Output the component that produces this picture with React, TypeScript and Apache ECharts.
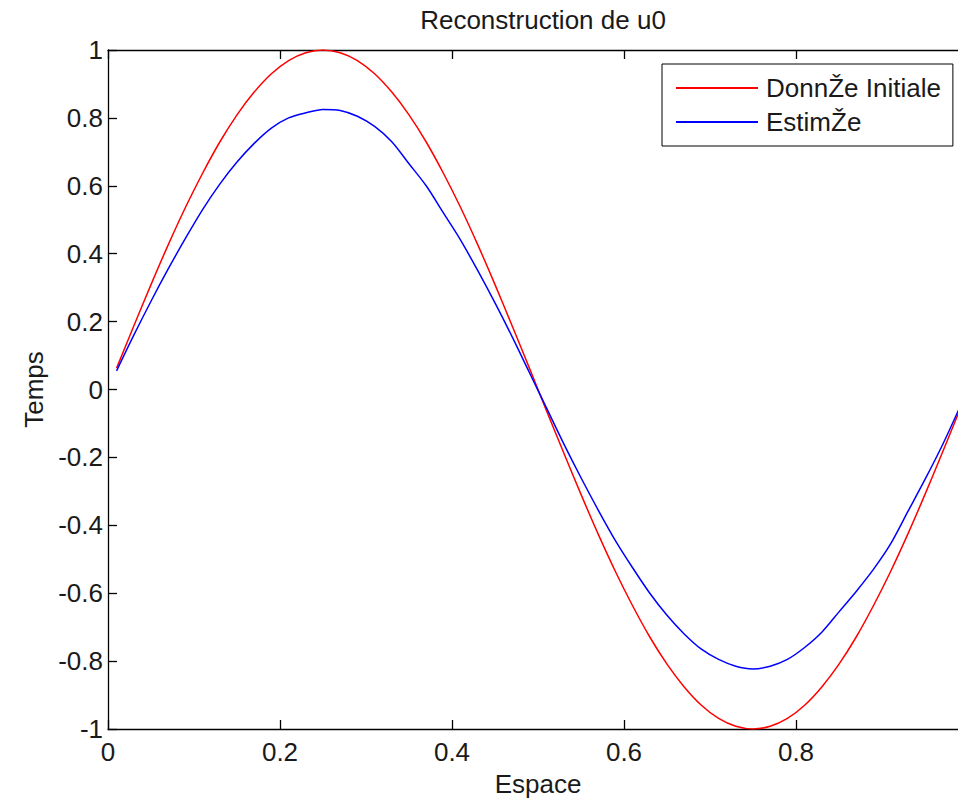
import React, { useEffect, useRef } from "react";
import * as echarts from "echarts";

const xs = [
  0.01, 0.03, 0.05, 0.07, 0.09, 0.11, 0.13, 0.15, 0.17, 0.19,
  0.21, 0.23, 0.25, 0.27, 0.29, 0.31, 0.33, 0.35, 0.37, 0.39,
  0.41, 0.43, 0.45, 0.47, 0.49, 0.51, 0.53, 0.55, 0.57, 0.59,
  0.61, 0.63, 0.65, 0.67, 0.69, 0.71, 0.73, 0.75, 0.77, 0.79,
  0.81, 0.83, 0.85, 0.87, 0.89, 0.91, 0.93, 0.95, 0.97, 0.99,
];

const initiale = [
  0.063, 0.187, 0.309, 0.426, 0.536, 0.637, 0.729, 0.809, 0.876, 0.93,
  0.969, 0.992, 1.0, 0.992, 0.969, 0.93, 0.876, 0.809, 0.729, 0.637,
  0.536, 0.426, 0.309, 0.187, 0.063, -0.063, -0.187, -0.309, -0.426, -0.536,
  -0.637, -0.729, -0.809, -0.876, -0.93, -0.969, -0.992, -1.0, -0.992, -0.969,
  -0.93, -0.876, -0.809, -0.729, -0.637, -0.536, -0.426, -0.309, -0.187, -0.063,
];

const estimee = [
  0.055, 0.16, 0.26, 0.355, 0.445, 0.53, 0.605, 0.67, 0.725, 0.77,
  0.8, 0.815, 0.825, 0.822, 0.805, 0.775, 0.73, 0.665, 0.6, 0.52,
  0.44, 0.35, 0.255, 0.155, 0.05, -0.055, -0.16, -0.26, -0.355, -0.445,
  -0.525, -0.6, -0.665, -0.72, -0.765, -0.795, -0.815, -0.823, -0.815, -0.795,
  -0.76, -0.715, -0.655, -0.595, -0.53, -0.455, -0.36, -0.265, -0.165, -0.055,
];

const seriesNames = ["DonnŽe Initiale", "EstimŽe"];
const FONT = "'Liberation Sans', Arial, Helvetica, sans-serif";
const TEXT = "#1a1a1a";

export default function App() {
  const ref = useRef<HTMLDivElement>(null);
  useEffect(() => {
    if (!ref.current) return;
    const chart = echarts.init(ref.current, null, { renderer: "svg" });
    const axisLine = { show: true, onZero: false, lineStyle: { color: "#000", width: 1.3 } };
    const tick = { show: true, inside: true, length: 9, lineStyle: { color: "#000", width: 1.3 } };
    chart.setOption({
      animation: false,
      backgroundColor: "#fff",
      textStyle: { fontFamily: FONT },
      title: {
        text: "Reconstruction de u0",
        left: 538,
        textAlign: "center",
        top: 2,
        textStyle: { fontSize: 26, fontWeight: "normal", color: TEXT, fontFamily: FONT },
      },
      legend: {
        left: 662,
        top: 64,
        orient: "vertical",
        icon: "rect",
        itemWidth: 82,
        itemHeight: 2,
        itemGap: 6,
        padding: [10, 12, 10, 14],
        borderColor: "#000",
        borderWidth: 1,
        backgroundColor: "#fff",
        textStyle: { fontSize: 26, color: TEXT, lineHeight: 28, fontFamily: FONT, padding: [0, 0, 0, 3] },
        data: seriesNames,
      },
      grid: {
        left: 108,
        top: 50,
        width: 860,
        height: 679,
        containLabel: false,
        outerBoundsMode: "none",
      },
      xAxis: [
        {
          type: "value",
          min: 0,
          max: 1,
          interval: 0.2,
          name: "Espace",
          nameLocation: "middle",
          nameGap: 42,
          nameTextStyle: { fontSize: 26, color: TEXT, fontFamily: FONT },
          axisLine,
          axisTick: tick,
          splitLine: { show: false },
          axisLabel: { fontSize: 26, color: TEXT, margin: 10, fontFamily: FONT, showMaxLabel: false },
        },
        {
          type: "value",
          position: "top",
          min: 0,
          max: 1,
          interval: 0.2,
          axisLine,
          axisTick: tick,
          splitLine: { show: false },
          axisLabel: { show: false },
        },
      ],
      yAxis: [
        {
          type: "value",
          min: -1,
          max: 1,
          interval: 0.2,
          name: "Temps",
          nameLocation: "middle",
          nameGap: 61,
          nameTextStyle: { fontSize: 26, color: TEXT, fontFamily: FONT },
          axisLine,
          axisTick: tick,
          splitLine: { show: false },
          axisLabel: { fontSize: 26, color: TEXT, margin: 5, fontFamily: FONT },
        },
        {
          type: "value",
          position: "right",
          min: -1,
          max: 1,
          interval: 0.2,
          axisLine,
          axisTick: tick,
          splitLine: { show: false },
          axisLabel: { show: false },
        },
      ],
      series: [
        {
          name: seriesNames[0],
          type: "line",
          showSymbol: false,
          symbol: "none",
          smooth: 0.3,
          color: "#ff0000",
          lineStyle: { color: "#ff0000", width: 1.5 },
          data: xs.map((x, i) => [x, initiale[i]]),
        },
        {
          name: seriesNames[1],
          type: "line",
          showSymbol: false,
          symbol: "none",
          smooth: 0.3,
          color: "#0000ff",
          lineStyle: { color: "#0000ff", width: 1.5 },
          data: xs.map((x, i) => [x, estimee[i]]),
        },
      ],
    });
    return () => chart.dispose();
  }, []);
  return (
    <div
      ref={ref}
      style={{ position: "fixed", left: 0, top: 0, width: 958, height: 799, background: "#fff" }}
    />
  );
}
